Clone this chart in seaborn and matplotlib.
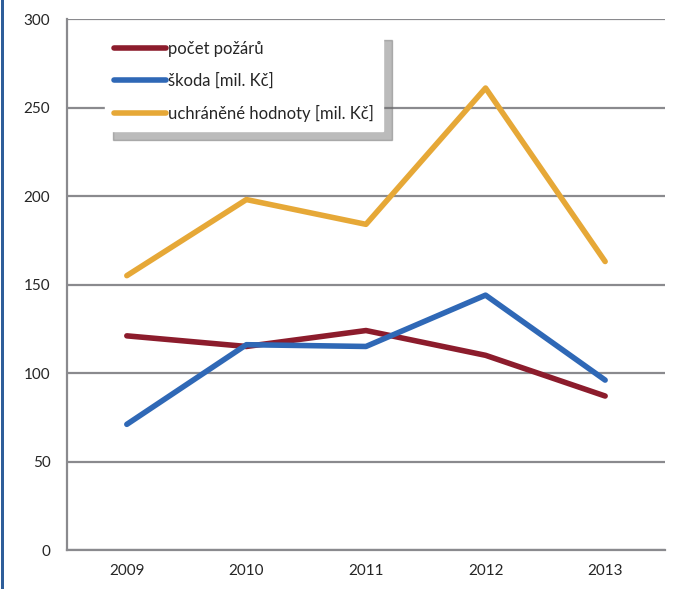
import pandas as pd
import matplotlib.pyplot as plt
import seaborn as sns
from matplotlib.lines import Line2D
from matplotlib.patches import Rectangle

years = ["2009", "2010", "2011", "2012", "2013"]
pocet_pozaru = [121, 115, 124, 110, 87]
skoda = [71, 116, 115, 144, 96]
uchranene = [155, 198, 184, 261, 163]

series_names = ["počet požárů", "škoda [mil. Kč]", "uchráněné hodnoty [mil. Kč]"]
colors = ["#8c1c2c", "#2f68b6", "#e6a837"]

df = pd.DataFrame({
    "rok": years * 3,
    "hodnota": pocet_pozaru + skoda + uchranene,
    "serie": [series_names[0]] * 5 + [series_names[1]] * 5 + [series_names[2]] * 5,
})

sns.set_style("white")
plt.rcParams["font.family"] = ["Lato", "DejaVu Sans"]

fig = plt.figure(figsize=(6.73, 5.89), dpi=100)
ax = fig.add_axes([0.0996, 0.0662, 0.8884, 0.9015])

sns.lineplot(data=df, x="rok", y="hodnota", hue="serie", palette=colors,
             linewidth=4, sort=False, ax=ax, legend=False)

ax.set_ylim(0, 300)
ax.set_xlim(-0.5, 4.5)
ax.set_yticks(range(0, 301, 50))
ax.yaxis.grid(True, color="#8a8a8e", linewidth=1.6)
ax.set_axisbelow(True)
ax.set_xlabel("")
ax.set_ylabel("")

for s in ["top", "right"]:
    ax.spines[s].set_visible(False)
for s in ["left", "bottom"]:
    ax.spines[s].set_color("#8a8a8e")
    ax.spines[s].set_linewidth(1.6)

ax.tick_params(axis="y", length=6, width=1.6, color="#8a8a8e", labelsize=11, pad=6)
ax.tick_params(axis="x", length=0, labelsize=11, pad=10)
ax.set_xticks([i - 0.5 for i in range(6)], minor=True)
ax.tick_params(axis="x", which="minor", direction="in", length=5, width=1.6, color="#8a8a8e")

handles = [Line2D([0], [0], color=c, linewidth=4) for c in colors]
leg = ax.legend(handles, series_names, loc="upper left", bbox_to_anchor=(0.0635, 0.9755),
                frameon=True, fancybox=False, fontsize=12,
                shadow={"color": "#6a6a6a", "alpha": 0.45, "ox": 6, "oy": -6},
                handlelength=3.1, handletextpad=0.15, labelspacing=0.95,
                borderpad=0.55, borderaxespad=0)
leg.get_frame().set_edgecolor("white")
leg.get_frame().set_facecolor("white")
leg.get_frame().set_alpha(1)

# blue border on the left edge
fig.add_artist(Rectangle((0.002, 0), 0.004, 1, transform=fig.transFigure,
                         color="#2e5e9a", linewidth=0))

fig.savefig("out.png", dpi=100, facecolor="white")
